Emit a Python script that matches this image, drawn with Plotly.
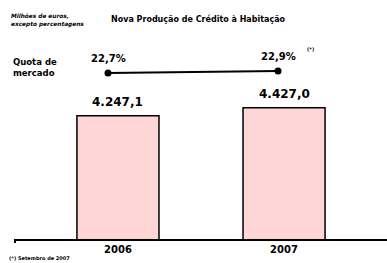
import plotly.graph_objects as go

# ---- data ----
years = ["2006", "2007"]
credit_values = [4247.1, 4427.0]          # Milhões de euros
credit_labels = ["4.247,1", "4.427,0"]
market_share = [22.7, 22.9]               # %
share_labels = ["22,7%", "22,9%"]

W, H = 387, 263
L, R, T, B = 15, 0, 20, 24
FONT = "DejaVu Sans"

def px_x(p):
    return (p - L) / (W - L - R)

def px_y(p):
    return (H - B - p) / (H - T - B)

fig = go.Figure()

fig.add_trace(go.Bar(
    x=years, y=credit_values, width=0.494,
    marker=dict(color="#FFD6D6", line=dict(color="black", width=1.5)),
    xaxis="x", yaxis="y", hoverinfo="skip",
))

fig.add_trace(go.Scatter(
    x=[0, 1], y=market_share, mode="lines+markers",
    line=dict(color="black", width=2),
    marker=dict(color="black", size=7),
    xaxis="x2", yaxis="y2", hoverinfo="skip", cliponaxis=False,
))

ann = []
for i, (v, lab) in enumerate(zip(credit_values, credit_labels)):
    ann.append(dict(x=i, y=v, xref="x", yref="y", text=lab, showarrow=False,
                    yanchor="bottom", yshift=5,
                    font=dict(family=FONT, size=12, color="black", weight="bold")))
for i, (v, lab) in enumerate(zip(market_share, share_labels)):
    ann.append(dict(x=i, y=v, xref="x2", yref="y2", text=lab, showarrow=False,
                    yanchor="bottom", yshift=7,
                    font=dict(family=FONT, size=10, color="black", weight="bold")))

ann += [
    dict(x=px_x(198), y=px_y(19), xref="paper", yref="paper",
         text="Nova Produção de Crédito à Habitação", showarrow=False,
         xanchor="center", yanchor="middle",
         font=dict(family=FONT, size=8, color="black", weight="bold")),
    dict(x=px_x(9), y=px_y(20), xref="paper", yref="paper",
         text="<i>Milhões de euros,<br>excepto percentagens</i>", showarrow=False,
         xanchor="left", yanchor="middle", align="left",
         font=dict(family=FONT, size=5.8, color="black", weight="bold")),
    dict(x=px_x(11), y=px_y(67), xref="paper", yref="paper",
         text="Quota de<br>mercado", showarrow=False,
         xanchor="left", yanchor="middle", align="left",
         font=dict(family=FONT, size=8.5, color="black", weight="bold")),
    dict(x=px_x(305), y=px_y(49), xref="paper", yref="paper",
         text="(*)", showarrow=False, xanchor="left", yanchor="middle",
         font=dict(family=FONT, size=5, color="black", weight="bold")),
    dict(x=px_x(7), y=px_y(258), xref="paper", yref="paper",
         text="(*) Setembro de 2007", showarrow=False, xanchor="left", yanchor="middle",
         font=dict(family=FONT, size=5, color="black", weight="bold")),
]

fig.update_layout(
    width=W, height=H,
    margin=dict(l=L, r=R, t=T, b=B, pad=0),
    paper_bgcolor="white", plot_bgcolor="white",
    showlegend=False,
    annotations=ann,
    shapes=[dict(type="line", xref="paper", yref="paper",
                 x0=0, x1=0, y0=0, y1=px_y(243),
                 line=dict(color="black", width=2))],
    xaxis=dict(type="category", range=[-0.62, 1.62], showline=True, linecolor="black",
               linewidth=2, showgrid=False, zeroline=False, ticks="",
               tickfont=dict(family=FONT, size=10, color="black", weight="bold"),
               fixedrange=True),
    yaxis=dict(range=[1480, 6400], visible=False, showgrid=False, fixedrange=True),
    xaxis2=dict(overlaying="x", range=[-0.547, 1.641], visible=False, fixedrange=True),
    yaxis2=dict(overlaying="y", range=[6.1, 28.0], visible=False, fixedrange=True),
)

fig.write_html("out.html", config={"displayModeBar": False},
               post_script="document.body.style.margin='0';document.body.style.padding='0';")
